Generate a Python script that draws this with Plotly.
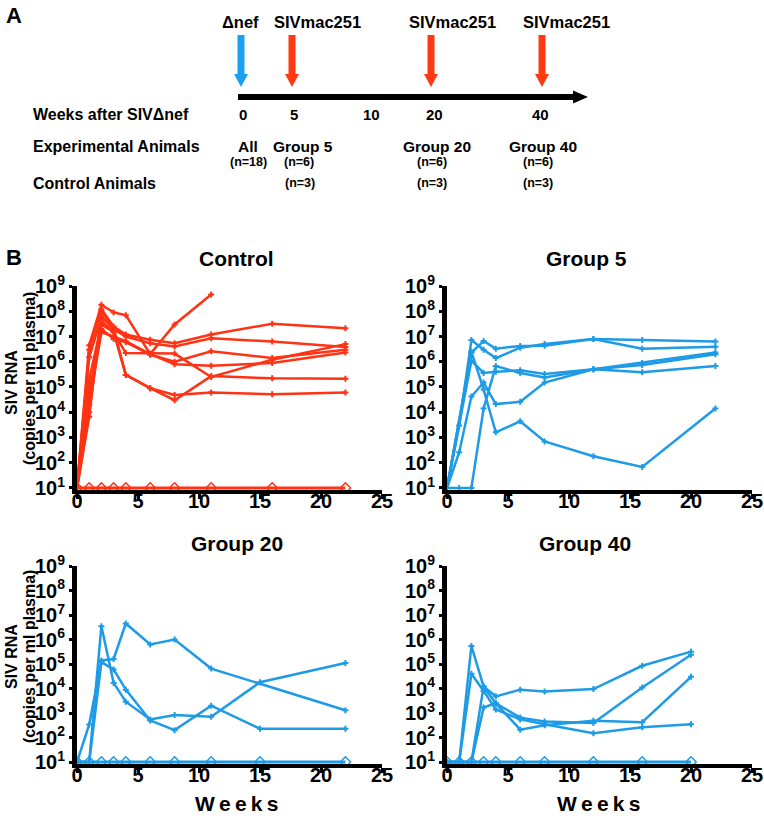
import plotly.graph_objects as go

W, H = 764, 816
FONT = "Liberation Sans, Arial, sans-serif"
RED = "#FF3214"
BLUE = "#1E9BE6"

# ---------------- data ----------------
weeks_ctrl = [0, 1, 2, 3, 4, 6, 8, 11, 16, 22]
ctrl_1 = [10, 4.5e6, 1.8e8, 9e7, 7e7, 2e6, 3e7, 4.6e8, None, None]
ctrl_2 = [10, 3e6, 1.2e8, 2.5e7, 1.2e7, 7.4e6, 5.4e6, 1.2e7, 3.2e7, 2.1e7]
ctrl_3 = [10, 1.5e6, 6e7, 2e7, 1e7, 5.4e6, 4e6, 8.5e6, 6.3e6, 3.8e6]
ctrl_4 = [10, 2e5, 3e7, 1.5e7, 2.2e6, 2.1e6, 2.1e6, 2.5e5, 1.2e6, 5e6]
ctrl_5 = [10, 6e4, 2e7, 8e6, 6e6, 1.9e6, 1e6, 2.6e6, 1.4e6, 3e6]
ctrl_6 = [10, 2e4, 1.5e7, 1e7, 6.5e6, 2e6, 8e5, 7e5, 9e5, 2.3e6]
ctrl_7 = [10, 6.6e3, 1e8, 2e7, 3e5, 9e4, 3e4, 2.7e5, 2.2e5, 2.1e5]
ctrl_8 = [10, 1e4, 4e7, 1.5e7, 3e5, 9e4, 4.8e4, 6e4, 5.2e4, 6e4]
ctrl_neg = [10, 10, 10, 10, 10, 10, 10, 10, 10, 10]

weeks_g5 = [0, 1, 2, 3, 4, 6, 8, 12, 16, 22]
g5_1 = [10, 3e3, 7.2e6, 3e6, 1.4e6, 3.6e6, 5e6, 8e6, 7.2e6, 6.3e6]
g5_2 = [10, None, 2.3e6, 6.6e6, 3.3e6, 4.2e6, 4.3e6, 8e6, 3.3e6, 3.9e6]
g5_3 = [10, None, 1.1e6, 3.6e5, 4e5, 4.6e5, 3.3e5, 5e5, 3.8e5, 6.8e5]
g5_4 = [10, 10, 10, 1.4e4, 6.8e5, 3.6e5, 2.4e5, 5e5, 9e5, 2.3e6]
g5_5 = [10, 2.6e2, 4.2e4, 1.5e5, 2.1e4, 2.6e4, 1.5e5, 5e5, 7.4e5, 2e6]
g5_6 = [10, None, 2.5e6, 8e4, 1.6e3, 4.4e3, 7e2, 1.8e2, 68, 1.4e4]

weeks_g20 = [0, 1, 2, 3, 4, 6, 8, 11, 15, 22]
g20_1 = [10, 10, 3.5e6, 1.7e4, 2.9e3, 5.5e2, 8.3e2, 7e2, 1.8e4, 1.1e5]
g20_2 = [10, 3.4e2, 1.4e5, 1.6e5, 4.5e6, 6.3e5, 1e6, 6.5e4, None, 1.3e3]
g20_3 = [10, 10, 1.2e5, 6e4, 9e3, 5e2, 2e2, 2e3, 2.3e2, 2.3e2]
g20_neg = [10, 10, 10, 10, 10, 10, 10, 10, 10, 10]

weeks_g40 = [0, 1, 2, 3, 4, 6, 8, 12, 16, 20]
g40_1 = [10, 10, 5.5e5, 1.2e4, 2.5e3, 6.5e2, 4.5e2, 3.9e2, 1.1e4, 2.4e5]
g40_2 = [10, 10, 4e4, 8e3, 1.4e3, 5.5e2, 3.5e2, 1.5e2, 2.6e2, 3.5e2]
g40_3 = [10, 10, 10, 1.2e4, 4.8e3, 9e3, 7.5e3, 9.5e3, 8.5e4, 3.2e5]
g40_4 = [10, 10, 10, 1.7e3, 2.5e3, 2.1e2, 3.2e2, 4.8e2, 4.2e2, 3e4]
g40_neg = [10, 10, 10, 10, 10, 10, 10, 10, 10, 10]

x_ticks = [0, 5, 10, 15, 20, 25]
y_exps = [1, 2, 3, 4, 5, 6, 7, 8, 9]

# panel A schematic texts
timeline_labels = ["0", "5", "10", "20", "40"]
exp_labels = ["All", "Group 5", "Group 20", "Group 40"]
exp_n = ["(n=18)", "(n=6)", "(n=6)", "(n=6)"]
ctrl_n = ["(n=3)", "(n=3)", "(n=3)"]
inf_labels = ["\u0394nef", "SIVmac251", "SIVmac251", "SIVmac251"]


def px(x):
    return x / W


def py(y):
    return 1 - y / H


fig = go.Figure()

panels = [
    ("x", "y", weeks_ctrl, [ctrl_1, ctrl_2, ctrl_3, ctrl_4, ctrl_5, ctrl_6, ctrl_7, ctrl_8], [ctrl_neg], RED),
    ("x2", "y2", weeks_g5, [g5_1, g5_2, g5_3, g5_4, g5_5, g5_6], [], BLUE),
    ("x3", "y3", weeks_g20, [g20_1, g20_2, g20_3], [g20_neg], BLUE),
    ("x4", "y4", weeks_g40, [g40_1, g40_2, g40_3, g40_4], [g40_neg], BLUE),
]

for xa, ya, wk, series, negs, col in panels:
    for s in negs:
        fig.add_trace(go.Scatter(
            x=wk, y=s, xaxis=xa, yaxis=ya, mode="lines+markers",
            line=dict(color=col, width=3),
            marker=dict(symbol="diamond-open", size=8, color=col, line=dict(width=1.5, color=col)),
            showlegend=False, cliponaxis=False))
    for s in series:
        fig.add_trace(go.Scatter(
            x=wk, y=s, xaxis=xa, yaxis=ya, mode="lines+markers",
            connectgaps=True,
            line=dict(color=col, width=2.5),
            marker=dict(symbol="cross", size=5, color=col),
            showlegend=False, cliponaxis=False))

tickfont = dict(family=FONT, size=20, color="black", weight="bold")


def xaxis(dom, anchor):
    return dict(domain=dom, anchor=anchor, range=[0, 25], tickmode="array", tickvals=x_ticks,
                ticktext=[str(v) for v in x_ticks], showline=True, linecolor="black", linewidth=4,
                ticks="outside", ticklen=5, tickwidth=3, tickcolor="black", tickfont=tickfont,
                ticklabelstandoff=-15,
                showgrid=False, zeroline=False, automargin=False)


def yaxis(dom, anchor):
    return dict(domain=dom, anchor=anchor, type="log", range=[0.92, 9.0], tickmode="array",
                tickvals=[10 ** e for e in y_exps],
                ticktext=["10<sup>%d</sup>" % e for e in y_exps],
                showline=True, linecolor="black", linewidth=5,
                ticks="outside", ticklen=3, tickwidth=3, tickcolor="black", tickfont=tickfont,
                showgrid=False, zeroline=False, automargin=False)


xl = [px(77), px(382)]
xr = [px(447), px(752)]
yt = [py(490), py(286)]
yb = [py(764), py(566)]

fig.update_layout(
    width=W, height=H, margin=dict(l=0, r=0, t=0, b=0, autoexpand=False),
    paper_bgcolor="white", plot_bgcolor="white",
    font=dict(family=FONT, color="black"),
    xaxis=xaxis(xl, "y"), yaxis=yaxis(yt, "x"),
    xaxis2=xaxis(xr, "y2"), yaxis2=yaxis(yt, "x2"),
    xaxis3=xaxis(xl, "y3"), yaxis3=yaxis(yb, "x3"),
    xaxis4=xaxis(xr, "y4"), yaxis4=yaxis(yb, "x4"),
)

ann = []


def text(x, y, s, size, xanchor="center", angle=0, weight="bold"):
    ann.append(dict(x=px(x), y=py(y), xref="paper", yref="paper", text=s, showarrow=False,
                    xanchor=xanchor, yanchor="middle", textangle=angle,
                    font=dict(family=FONT, size=size, color="black", weight=weight)))


# Panel letters
text(4, 15, "A", 22, xanchor="left")
text(4, 257, "B", 22, xanchor="left")

# Panel A
text(31, 115, "Weeks after SIV\u0394nef", 16, xanchor="left")
text(31, 146, "Experimental Animals", 16, xanchor="left")
text(31, 184, "Control Animals", 16, xanchor="left")
for s, x in zip(timeline_labels, [243, 294, 371, 434, 540]):
    text(x, 115, s, 15)
for s, x in zip(exp_labels, [248, 303, 437, 543]):
    text(x, 146, s, 15.5)
for s, x in zip(exp_n, [248, 299, 432, 538]):
    text(x, 162, s, 12.5)
for s, x in zip(ctrl_n, [300, 432, 538]):
    text(x, 183, s, 12.5)
for s, x in zip(inf_labels, [240, 317, 452, 566]):
    text(x, 22, s, 16.5)

# Panel B titles
text(237, 258, "Control", 21)
text(586, 258, "Group 5", 21)
text(237, 543, "Group 20", 21)
text(585, 543, "Group 40", 21)

# y titles
for yc in (383, 657):
    text(11, yc, "SIV RNA", 16, angle=-90)
    text(29, yc - 4 if yc == 383 else yc, "(copies per ml plasma)", 16, angle=-90)

# x titles
WEEKS = "W\u2009e\u2009e\u2009k\u2009s"
text(237, 803, WEEKS, 21)
text(598, 803, WEEKS, 21)

shapes = []


def path(points):
    d = "M " + " L ".join("%.5f,%.5f" % (px(a), py(b)) for a, b in points) + " Z"
    return d


def down_arrow(x, color):
    pts = [(x - 3.5, 35), (x + 3.5, 35), (x + 3.5, 74), (x + 7, 74), (x, 87), (x - 7, 74), (x - 3.5, 74)]
    shapes.append(dict(type="path", xref="paper", yref="paper", path=path(pts),
                       fillcolor=color, line=dict(width=0)))


down_arrow(241, "#1AA0F0")
for ax_ in (292, 431, 542):
    down_arrow(ax_, "#FF3A12")

# timeline arrow
tl = [(238, 94), (573, 94), (573, 90.5), (588, 97), (573, 103.5), (573, 100), (238, 100)]
shapes.append(dict(type="path", xref="paper", yref="paper", path=path(tl),
                   fillcolor="black", line=dict(width=0)))

fig.update_layout(annotations=ann, shapes=shapes)
fig.write_html("out.html", config={"displayModeBar": False},
               post_script="document.body.style.margin='0px';")
